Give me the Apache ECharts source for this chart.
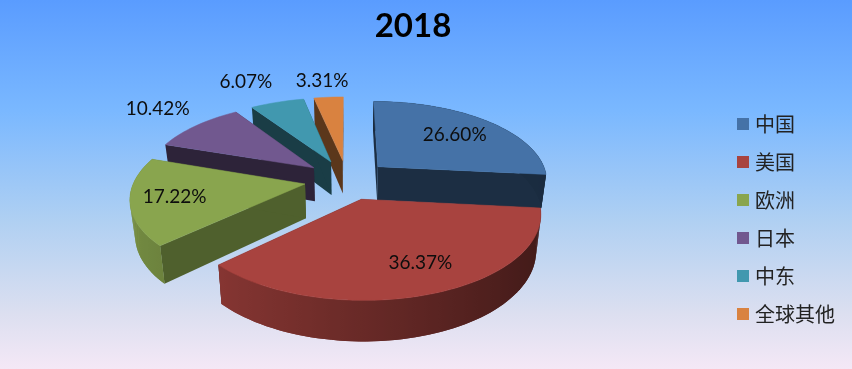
<!DOCTYPE html>
<html>
<head>
<meta charset="utf-8">
<style>
  html, body { margin: 0; padding: 0; }
  #chart { width: 852px; height: 369px; }
</style>
<script src="https://cdn.jsdelivr.net/npm/echarts@6/dist/echarts.min.js"></script>
</head>
<body>
<div id="chart"></div>
<script>
// 数据
var regions = ['中国', '美国', '欧洲', '日本', '中东', '全球其他'];
var shares = [26.60, 36.37, 17.22, 10.42, 6.07, 3.31];
var chartTitle = '2018';

// 颜色
var topColors = ['#4572a7', '#a8433f', '#89a54e', '#71588f', '#4198af', '#d98240'];
var cutShade = [0.4, 0.4, 0.58, 0.4, 0.4, 0.42];
var paintOrder = [4, 6, 4, 3, 2, 1];

// 标签沿扇区中线的位置
var labelRadius = [0.91, 0.98, 0.99, 1.625, 1.685, 1.575];
var labelTurn = [0, -3.5, 0, 2.2, -2.0, -0.4];

// 透视参数
var view = { cx: 347, horizon: -397, slope: 0.3, scale: 173, persp: 0.138, depth: 0.197, shrink: 0.976, explode: 0.25 };

function shade(hex, k) {
    var n = parseInt(hex.slice(1), 16);
    var c = [(n >> 16) & 255, (n >> 8) & 255, n & 255].map(function (v) { return Math.round(v * k); });
    return 'rgb(' + c.join(',') + ')';
}

function narrow(y) {
    return 0.985 - 0.018 * y;
}

// 地面坐标 -> 屏幕坐标
function project(x, y, low) {
    var s = view.scale / (1 + view.persp * y);
    var sx = x * s * narrow(y);
    var sy = view.horizon + s / view.slope + 1.3 * y * y;
    if (low) {
        sx *= view.shrink;
        sy += view.depth * s;
    }
    return [view.cx + sx, sy];
}

var total = shares.reduce(function (a, b) { return a + b; }, 0);

function sliceItem(index) {
    return function (params, api) {
        var before = 0;
        for (var i = 0; i < index; i++) before += shares[i];
        var a0 = before / total * Math.PI * 2;
        var a1 = (before + api.value(0)) / total * Math.PI * 2;
        var mid = (a0 + a1) / 2;
        var ox = Math.sin(mid) * view.explode;
        var oy = Math.cos(mid) * view.explode;
        var color = topColors[index];
        var steps = Math.max(4, Math.ceil((a1 - a0) / (Math.PI / 90)));
        var rim = [];
        for (var j = 0; j <= steps; j++) {
            var t = a0 + (a1 - a0) * j / steps;
            rim.push([ox + Math.sin(t), oy + Math.cos(t), t]);
        }
        var children = [];
        var cut = shade(color, cutShade[index]);

        function wall(p, q, fill) {
            children.push({
                type: 'polygon',
                shape: { points: [project(p[0], p[1]), project(q[0], q[1]), project(q[0], q[1], true), project(p[0], p[1], true)] },
                style: { fill: fill }
            });
        }

        // 切面
        wall([ox, oy], rim[0], cut);
        wall([ox, oy], rim[steps], cut);

        // 外弧面，左亮右暗，共用一个横向渐变
        var upper = rim.map(function (p) { return project(p[0], p[1]); });
        var lower = rim.map(function (p) { return project(p[0], p[1], true); }).reverse();
        var xs = upper.map(function (p) { return p[0]; });
        var minX = Math.min.apply(null, xs);
        var maxX = Math.max.apply(null, xs);
        var stops = [];
        rim.forEach(function (p, n) {
            if (Math.cos(p[2]) < 0.15) {
                stops.push({ offset: (upper[n][0] - minX) / (maxX - minX), color: shade(color, 0.62 - 0.24 * Math.sin(p[2])) });
            }
        });
        stops.sort(function (a, b) { return a.offset - b.offset; });
        if (stops.length > 1) {
            var sideFill = { type: 'linear', x: minX, y: 0, x2: maxX, y2: 0, global: true, colorStops: stops };
            // 小段补齐轮廓，再用整块盖住接缝
            for (var m = 0; m < steps; m++) {
                wall(rim[m], rim[m + 1], sideFill);
            }
            children.push({
                type: 'polygon',
                shape: { points: upper.concat(lower) },
                style: { fill: sideFill }
            });
        }

        // 顶面
        var top = [project(ox, oy)].concat(upper);
        children.push({
            type: 'polygon',
            shape: { points: top },
            style: { fill: color, stroke: color, lineWidth: 0.5 }
        });

        // 百分比
        var la = mid + labelTurn[index] * Math.PI / 180;
        var ly = Math.cos(la) * labelRadius[index];
        var lp = project(Math.sin(la) * labelRadius[index] / narrow(ly), ly);
        children.push({
            type: 'text',
            style: {
                text: api.value(0).toFixed(2) + '%',
                x: lp[0],
                y: lp[1],
                align: 'center',
                verticalAlign: 'middle',
                fontFamily: 'Lato',
                fontSize: 19,
                fill: '#0d0d0d'
            }
        });
        return { type: 'group', children: children };
    };
}

var chart = echarts.init(document.getElementById('chart'));
var option = {
    animation: false,
    backgroundColor: new echarts.graphic.LinearGradient(0, 0, 0, 1, [
        { offset: 0, color: '#5a9cff' },
        { offset: 0.3, color: '#7ab8ff' },
        { offset: 0.6, color: '#b0d0f2' },
        { offset: 0.85, color: '#dcdff0' },
        { offset: 1, color: '#f4e8f6' }
    ]),
    title: {
        text: chartTitle,
        left: 408,
        top: 5,
        textAlign: 'center',
        textStyle: { fontFamily: 'Lato', fontSize: 33, fontWeight: 'bold', color: '#000' }
    },
    legend: {
        orient: 'vertical',
        left: 737,
        top: 114,
        padding: 0,
        icon: 'rect',
        itemWidth: 12,
        itemHeight: 12,
        itemGap: 18,
        textStyle: { fontFamily: 'Noto Sans CJK SC', fontSize: 20, color: '#222', padding: [0, 0, 0, 1] },
        data: regions
    },
    series: regions.map(function (name, i) {
        return {
            name: name,
            type: 'custom',
            coordinateSystem: 'none',
            z: paintOrder[i],
            itemStyle: { color: topColors[i] },
            renderItem: sliceItem(i),
            data: [[shares[i]]]
        };
    })
};
chart.setOption(option);
</script>
</body>
</html>
